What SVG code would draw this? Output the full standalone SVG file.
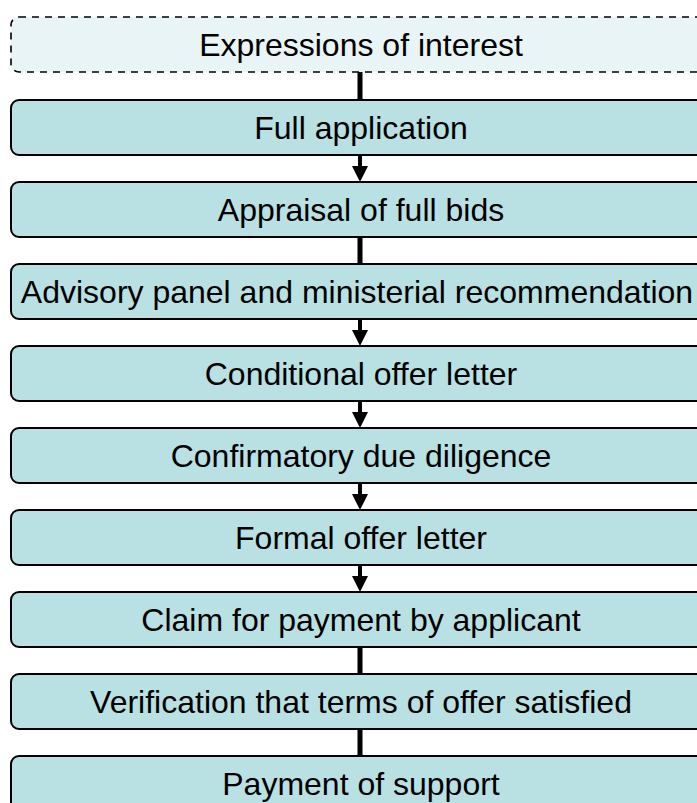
<svg xmlns="http://www.w3.org/2000/svg" width="697" height="803" viewBox="0 0 697 803">
<defs>
<style>
.box{fill:#b9e0e2;stroke:#000;stroke-width:2}
.eoi{fill:#e8f4f5;stroke:#000;stroke-width:1.6;stroke-dasharray:7 6}
.lbl{font-family:"Liberation Sans",Arial,sans-serif;font-size:32px;fill:#000;text-anchor:middle}
.line{stroke:#000;stroke-width:5;fill:none}
.shaft{stroke:#000;stroke-width:4;fill:none}
.head{fill:#000}
</style>
</defs>
<rect width="697" height="803" fill="#fff"/>
<g id="connectors">
<line class="line" x1="360" y1="72" x2="360" y2="100"/>
<line class="shaft" x1="360" y1="155" x2="360" y2="167"/><polygon class="head" points="352,166 368,166 360,182"/>
<line class="line" x1="360" y1="237" x2="360" y2="264"/>
<line class="shaft" x1="360" y1="319" x2="360" y2="331"/><polygon class="head" points="352,330 368,330 360,346"/>
<line class="shaft" x1="360" y1="401" x2="360" y2="413"/><polygon class="head" points="352,412 368,412 360,428"/>
<line class="shaft" x1="360" y1="483" x2="360" y2="495"/><polygon class="head" points="352,494 368,494 360,510"/>
<line class="shaft" x1="360" y1="565" x2="360" y2="577"/><polygon class="head" points="352,576 368,576 360,592"/>
<line class="line" x1="360" y1="647" x2="360" y2="674"/>
<line class="line" x1="360" y1="729" x2="360" y2="756"/>
</g>
<g id="n1"><rect class="eoi" x="11" y="17" width="700" height="55" rx="8"/><text class="lbl" x="361" y="56">Expressions of interest</text></g>
<g id="n2"><rect class="box" x="11" y="100" width="700" height="55" rx="8"/><text class="lbl" x="361" y="139">Full application</text></g>
<g id="n3"><rect class="box" x="11" y="182" width="700" height="55" rx="8"/><text class="lbl" x="361" y="221">Appraisal of full bids</text></g>
<g id="n4"><rect class="box" x="11" y="264" width="700" height="55" rx="8"/><text class="lbl" x="357" y="303">Advisory panel and ministerial recommendation</text></g>
<g id="n5"><rect class="box" x="11" y="346" width="700" height="55" rx="8"/><text class="lbl" x="361" y="385">Conditional offer letter</text></g>
<g id="n6"><rect class="box" x="11" y="428" width="700" height="55" rx="8"/><text class="lbl" x="361" y="467">Confirmatory due diligence</text></g>
<g id="n7"><rect class="box" x="11" y="510" width="700" height="55" rx="8"/><text class="lbl" x="361" y="549">Formal offer letter</text></g>
<g id="n8"><rect class="box" x="11" y="592" width="700" height="55" rx="8"/><text class="lbl" x="361" y="631">Claim for payment by applicant</text></g>
<g id="n9"><rect class="box" x="11" y="674" width="700" height="55" rx="8"/><text class="lbl" x="361" y="713">Verification that terms of offer satisfied</text></g>
<g id="n10"><rect class="box" x="11" y="756" width="700" height="55" rx="8"/><text class="lbl" x="361" y="795">Payment of support</text></g>
</svg>
